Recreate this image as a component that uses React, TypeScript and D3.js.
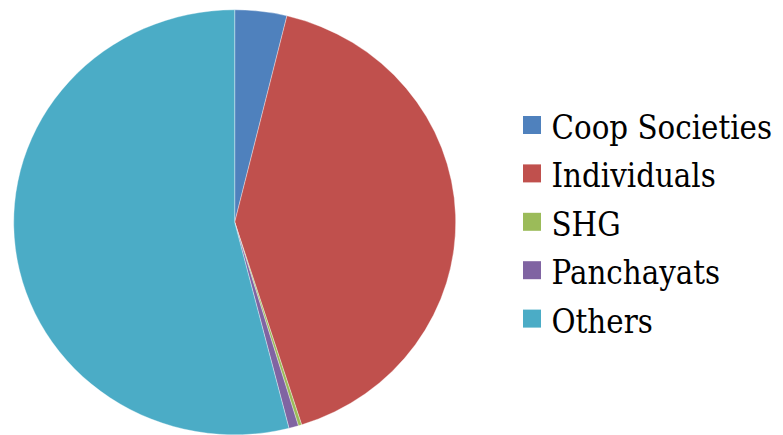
import React from "react";
import * as d3 from "d3";

const categories = ["Coop Societies", "Individuals", "SHG", "Panchayats", "Others"];
const values = [3.8, 41.3, 0.25, 0.7, 53.95];
const colors = ["#4F81BD", "#C0504D", "#9BBB59", "#8064A2", "#4BACC6"];

const W = 783;
const H = 435;

export default function App() {
  const cx = 234.7;
  const cy = 222.3;
  const rx = 221;
  const ry = 212.5;
  const data = categories.map((c, i) => ({ c, v: values[i], color: colors[i] }));
  const pie = d3.pie<any>().value((d) => d.v).sort(null);
  const arcs = pie(data);
  const arc = d3.arc<any>().innerRadius(0).outerRadius(rx);

  const legendX = 523;
  const legendY0 = 125;
  const legendStep = 48.4;
  const sq = 18;

  return (
    <svg
      width={W}
      height={H}
      style={{ position: "absolute", left: 0, top: 0, background: "#fff" }}
    >
      <g transform={`translate(${cx},${cy}) scale(1,${ry / rx})`}>
        {arcs.map((a, i) => (
          <path
            key={i}
            d={arc(a) as string}
            fill={a.data.color}
            stroke="#ffffff"
            strokeWidth={0.6}
            strokeOpacity={0.6}
          />
        ))}
      </g>
      <g>
        {data.map((d, i) => {
          const yc = legendY0 + i * legendStep;
          return (
            <g key={i}>
              <rect x={legendX} y={yc - sq / 2} width={sq} height={sq} fill={d.color} />
              <text
                transform={`translate(551.5,${yc + 14}) scale(0.89,1)`}
                style={{ fontFamily: "DejaVu Serif", fontSize: "33px" }}
                fill="#000"
              >
                {d.c}
              </text>
            </g>
          );
        })}
      </g>
    </svg>
  );
}
